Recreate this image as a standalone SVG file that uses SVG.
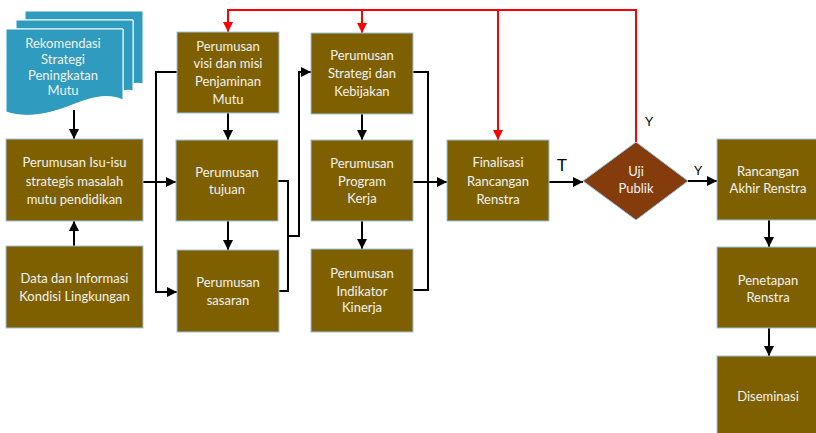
<svg xmlns="http://www.w3.org/2000/svg" width="816" height="433" viewBox="0 0 816 433">
<defs>
<style>
.box{fill:#7F6000;stroke:#9DC3E6;stroke-width:1}
.doc{fill:#2F9BBE;stroke:#FFFFFF;stroke-width:1}
.t{font-family:Lato,"Liberation Sans",sans-serif;font-size:13px;fill:#F2F2F2;text-anchor:middle}
.c{fill:none;stroke:#000;stroke-width:2}
.r{fill:none;stroke:#FF0000;stroke-width:2}
.lbl{font-family:"Liberation Sans",Arial,sans-serif;fill:#000;text-anchor:middle}
</style>
<marker id="ab" markerUnits="userSpaceOnUse" markerWidth="11" markerHeight="11" refX="10" refY="5" orient="auto"><path d="M0,0 L10,5 L0,10 Z" fill="#000"/></marker>
<marker id="ar" markerUnits="userSpaceOnUse" markerWidth="11" markerHeight="11" refX="10" refY="5" orient="auto"><path d="M0,0 L10,5 L0,10 Z" fill="#FF0000"/></marker>
</defs>
<rect width="816" height="433" fill="#FFFFFF"/>
<g id="connectors">
<path class="c" d="M74,110 V139" marker-end="url(#ab)"/>
<path class="c" d="M74,246 V221" marker-end="url(#ab)"/>
<path class="c" d="M143,182 H176" marker-end="url(#ab)"/>
<path class="c" d="M177,72 H156 V292 H177" marker-end="url(#ab)"/>
<path class="c" d="M228,113 V140" marker-end="url(#ab)"/>
<path class="c" d="M228,221 V250" marker-end="url(#ab)"/>
<path class="c" d="M278,181 H288 V291 H279"/>
<path class="c" d="M288,236 H299 V72 H311" marker-end="url(#ab)"/>
<path class="c" d="M362,114 V140" marker-end="url(#ab)"/>
<path class="c" d="M362,221 V249" marker-end="url(#ab)"/>
<path class="c" d="M413,72 H428 V290 H413"/>
<path class="c" d="M413,182 H447" marker-end="url(#ab)"/>
<path class="c" d="M549,182 H583" marker-end="url(#ab)"/>
<path class="c" d="M688,181 H717" marker-end="url(#ab)"/>
<path class="c" d="M769,220 V247" marker-end="url(#ab)"/>
<path class="c" d="M769,328 V356" marker-end="url(#ab)"/>
<path class="r" d="M636,142 V10 H228 V32" marker-end="url(#ar)"/>
<path class="r" d="M362,10 V33" marker-end="url(#ar)"/>
<path class="r" d="M498,10 V140" marker-end="url(#ar)"/>
<text class="lbl" x="562" y="171" font-size="17">T</text>
<text class="lbl" x="649" y="126" font-size="13">Y</text>
<text class="lbl" x="698" y="175" font-size="13">Y</text>
</g>
<g id="rekomendasi">
<path class="doc" d="M25,11 H143 V84 C139,83 136,83 133,84 V20 H25 Z"/>
<path class="doc" d="M16,20 H133 V91 C130,90 127,90 123,91 V29 H16 Z"/>
<path class="doc" d="M6,29 H123 V100 C110,94 95,96 75,104 C55,112 30,120 6,112 Z"/>
<text class="t" x="63" y="48">Rekomendasi</text>
<text class="t" x="63" y="64">Strategi</text>
<text class="t" x="63" y="80">Peningkatan</text>
<text class="t" x="63" y="95">Mutu</text>
</g>
<g id="isu">
<rect class="box" x="6" y="139" width="137" height="82"/>
<text class="t" x="74.5" y="167">Perumusan Isu-isu</text>
<text class="t" x="74.5" y="186">strategis masalah</text>
<text class="t" x="74.5" y="204">mutu pendidikan</text>
</g>
<g id="data">
<rect class="box" x="6" y="246" width="137" height="82"/>
<text class="t" x="74.5" y="283">Data dan Informasi</text>
<text class="t" x="74.5" y="301">Kondisi Lingkungan</text>
</g>
<g id="visi">
<rect class="box" x="177" y="32" width="102" height="81"/>
<text class="t" x="228" y="51">Perumusan</text>
<text class="t" x="228" y="68">visi dan misi</text>
<text class="t" x="228" y="86">Penjaminan</text>
<text class="t" x="228" y="104">Mutu</text>
</g>
<g id="tujuan">
<rect class="box" x="176" y="140" width="102" height="81"/>
<text class="t" x="227" y="177">Perumusan</text>
<text class="t" x="227" y="194">tujuan</text>
</g>
<g id="sasaran">
<rect class="box" x="177" y="250" width="102" height="82"/>
<text class="t" x="228" y="287">Perumusan</text>
<text class="t" x="228" y="305">sasaran</text>
</g>
<g id="strategi">
<rect class="box" x="311" y="33" width="102" height="81"/>
<text class="t" x="362" y="60">Perumusan</text>
<text class="t" x="362" y="78">Strategi dan</text>
<text class="t" x="362" y="96">Kebijakan</text>
</g>
<g id="program">
<rect class="box" x="311" y="140" width="102" height="81"/>
<text class="t" x="362" y="168">Perumusan</text>
<text class="t" x="362" y="186">Program</text>
<text class="t" x="362" y="203">Kerja</text>
</g>
<g id="indikator">
<rect class="box" x="311" y="249" width="102" height="83"/>
<text class="t" x="362" y="278">Perumusan</text>
<text class="t" x="362" y="296">Indikator</text>
<text class="t" x="362" y="312">Kinerja</text>
</g>
<g id="finalisasi">
<rect class="box" x="447" y="140" width="102" height="81"/>
<text class="t" x="498" y="167">Finalisasi</text>
<text class="t" x="498" y="186">Rancangan</text>
<text class="t" x="498" y="204">Renstra</text>
</g>
<g id="uji">
<polygon points="583,181 636,142 688,181 636,220" fill="#843C0C" stroke="#9DC3E6" stroke-width="1"/>
<text class="t" x="636" y="176">Uji</text>
<text class="t" x="636" y="193">Publik</text>
</g>
<g id="rancangan">
<rect class="box" x="717" y="139" width="102" height="81"/>
<text class="t" x="768" y="176">Rancangan</text>
<text class="t" x="768" y="193">Akhir Renstra</text>
</g>
<g id="penetapan">
<rect class="box" x="717" y="247" width="102" height="81"/>
<text class="t" x="768" y="285">Penetapan</text>
<text class="t" x="768" y="302">Renstra</text>
</g>
<g id="diseminasi">
<rect class="box" x="717" y="356" width="102" height="81"/>
<text class="t" x="768" y="401">Diseminasi</text>
</g>
</svg>
